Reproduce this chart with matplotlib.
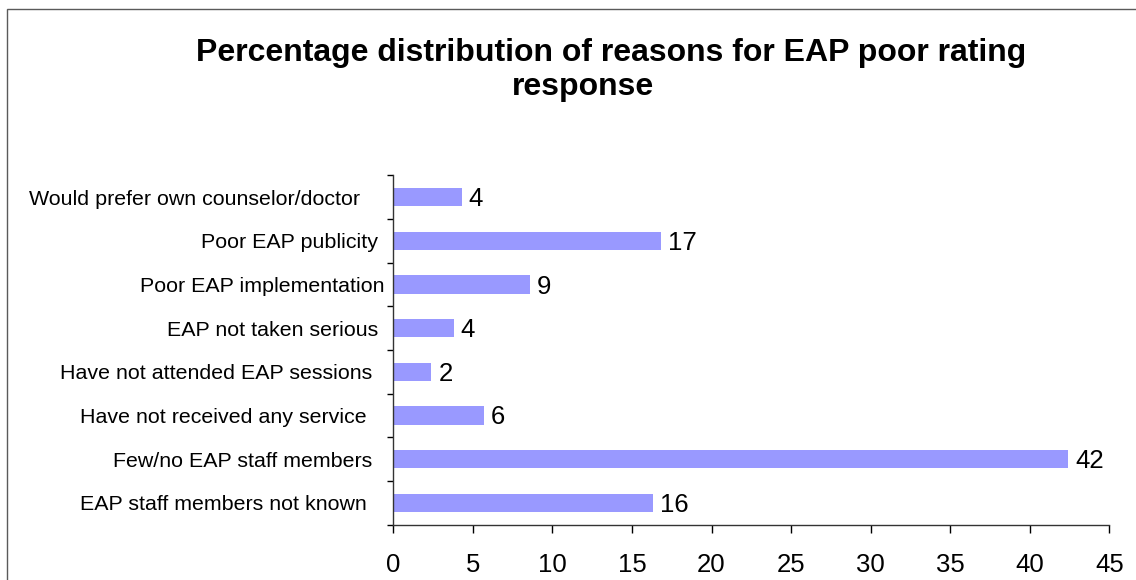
import matplotlib
matplotlib.use("Agg")
import matplotlib.pyplot as plt
from matplotlib.patches import Rectangle

plt.rcParams['font.family'] = ['Liberation Sans', 'DejaVu Sans']

# Reasons, listed top to bottom as they appear on the chart
reasons = [
    "Would prefer own counselor/doctor    ",
    "Poor EAP publicity ",
    "Poor EAP implementation",
    "EAP not taken serious ",
    "Have not attended EAP sessions  ",
    "Have not received any service   ",
    "Few/no EAP staff members  ",
    "EAP staff members not known   ",
]
percentages = [4.3, 16.8, 8.6, 3.8, 2.4, 5.7, 42.4, 16.3]
x_ticks = [0, 5, 10, 15, 20, 25, 30, 35, 40, 45]

title_line1 = "Percentage distribution of reasons for EAP poor rating"
title_line2 = "response"

W, H = 1136, 580
fig = plt.figure(figsize=(W / 100, H / 100), dpi=100)
fig.patch.set_facecolor("white")

# Chart frame
fig.patches.append(Rectangle((7 / W, -0.1), 1.2, (H - 9) / H + 0.1,
                             transform=fig.transFigure, fill=False,
                             edgecolor="#5a5a5a", linewidth=1.0))

ax = fig.add_axes([393.3 / W, (H - 524.5) / H, (1109.3 - 393.3) / W, (524.5 - 175.3) / H])

# Draw from the bottom up so the first reason ends up on top
ys = list(range(len(reasons)))[::-1]
bars = ax.barh(ys, percentages, height=0.42, color="#9999FF", edgecolor="none")

for y, v in zip(ys, percentages):
    ax.annotate(f"{v:.0f}", xy=(v, y), xytext=(5, -1.5), textcoords="offset points",
                ha="left", va="center", fontsize=18.5, color="black")

ax.set_xlim(0, 45)
ax.set_ylim(-0.5, len(reasons) - 0.5)
ax.set_xticks(x_ticks)
ax.set_xticklabels([str(t) for t in x_ticks], fontsize=18.5)
ax.set_yticks(ys)
ax.set_yticklabels(reasons, fontsize=15.4)
ax.set_yticks([i - 0.5 for i in range(len(reasons) + 1)], minor=True)

ax.tick_params(axis="y", which="major", length=0, pad=6.5)
ax.tick_params(axis="y", which="minor", length=4.5, width=1, color="black", direction="out")
ax.tick_params(axis="x", which="major", length=5.5, width=1, color="black",
               direction="out", pad=15)

for side in ("top", "right"):
    ax.spines[side].set_visible(False)
for side in ("left", "bottom"):
    ax.spines[side].set_color("#333333")
    ax.spines[side].set_linewidth(1.0)

fig.text(611 / W, 1 - 60.7 / H, title_line1, ha="center", va="baseline",
         fontsize=23, fontweight="bold")
fig.text(582.5 / W, 1 - 95 / H, title_line2, ha="center", va="baseline",
         fontsize=23, fontweight="bold")

fig.savefig("out.png", dpi=100)
